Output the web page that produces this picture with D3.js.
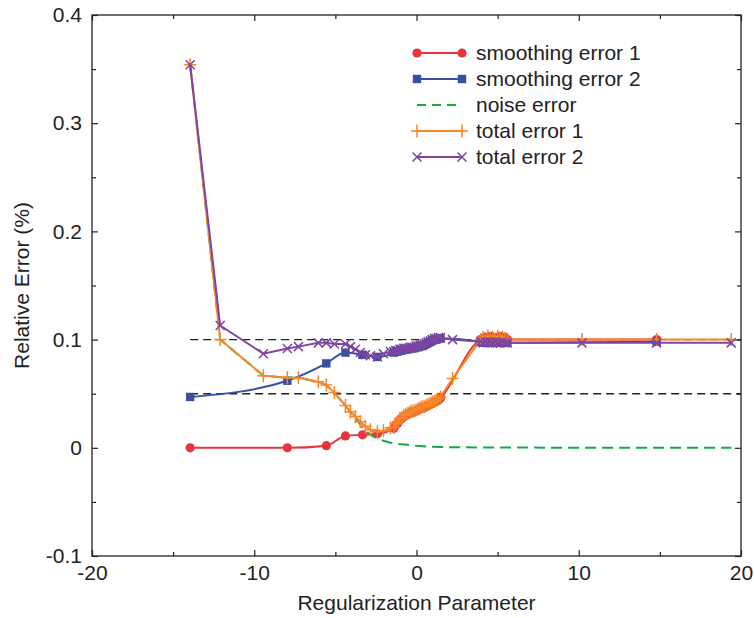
<!DOCTYPE html>
<html>
<head>
<meta charset="utf-8">
<script src="https://cdn.jsdelivr.net/npm/d3@7"></script>
<style>
  body { margin: 0; background: #fff; }
  text { font-family: "Liberation Sans", Arial, Helvetica, sans-serif; fill: #222; }
</style>
</head>
<body>
<svg id="chart" width="754" height="618"></svg>
<script>
// ---------- data ----------
const xTotal = [-13.95, -12.1, -9.44, -7.96, -7.28, -6.05, -5.56, -5.06, -4.38, -4.07, -3.77, -3.46, -3.15, -2.84, -2.41, -2.04, -1.6,
  -1.4, -1.28, -1.15, -1.02, -0.9, -0.78, -0.65, -0.52, -0.4, -0.28, -0.15, -0.03, 0.1, 0.22, 0.35, 0.47, 0.6, 0.72, 0.85, 0.97, 1.1, 1.22, 1.35, 1.48,
  2.22,
  3.95, 4.1, 4.25, 4.4, 4.55, 4.7, 4.85, 5.0, 5.15, 5.3, 5.45, 5.6,
  10.2, 14.8, 19.4];
const total1 = [0.354, 0.100, 0.0667, 0.0648, 0.0648, 0.061, 0.058, 0.051, 0.039, 0.033, 0.029, 0.024, 0.020, 0.0167, 0.0148, 0.0157, 0.0185,
  0.019, 0.022, 0.024, 0.027, 0.028, 0.030, 0.031, 0.032, 0.033, 0.034, 0.034, 0.035, 0.036, 0.037, 0.038, 0.038, 0.039, 0.040, 0.041, 0.042, 0.043, 0.044, 0.045, 0.047,
  0.064,
  0.100, 0.102, 0.101, 0.103, 0.101, 0.102, 0.100, 0.103, 0.101, 0.102, 0.101, 0.100,
  0.100, 0.100, 0.100];
const total2 = [0.354, 0.113, 0.087, 0.0917, 0.0935, 0.097, 0.097, 0.096, 0.096, 0.0935, 0.091, 0.088, 0.086, 0.085, 0.084, 0.087, 0.089,
  0.089, 0.090, 0.090, 0.091, 0.091, 0.092, 0.092, 0.092, 0.093, 0.093, 0.093, 0.094, 0.094, 0.095, 0.095, 0.096, 0.097, 0.098, 0.099, 0.100, 0.101, 0.101, 0.102, 0.102,
  0.100,
  0.098, 0.097, 0.098, 0.097, 0.098, 0.097, 0.098, 0.097, 0.097, 0.098, 0.097, 0.097,
  0.097, 0.097, 0.097];

const xSmooth = [-13.95, -7.96, -5.56, -4.38, -3.33, -2.41,
  -1.4, -1.28, -1.15, -1.02, -0.9, -0.78, -0.65, -0.52, -0.4, -0.28, -0.15, -0.03, 0.1, 0.22, 0.35, 0.47, 0.6, 0.72, 0.85, 0.97, 1.1, 1.22, 1.35, 1.48,
  3.95, 4.1, 4.25, 4.4, 4.55, 4.7, 4.85, 5.0, 5.15, 5.3, 5.45, 5.6,
  14.8];
const smooth1 = [0, 0, 0.002, 0.011, 0.012, 0.013,
  0.018, 0.021, 0.023, 0.026, 0.027, 0.029, 0.030, 0.031, 0.032, 0.033, 0.033, 0.034, 0.035, 0.036, 0.037, 0.037, 0.038, 0.039, 0.040, 0.041, 0.042, 0.043, 0.044, 0.046,
  0.100, 0.101, 0.102, 0.101, 0.103, 0.101, 0.102, 0.101, 0.103, 0.101, 0.102, 0.100,
  0.100];
const smooth2 = [0.047, 0.062, 0.078, 0.088, 0.086, 0.084,
  0.088, 0.089, 0.089, 0.090, 0.090, 0.091, 0.091, 0.091, 0.092, 0.092, 0.092, 0.093, 0.093, 0.094, 0.094, 0.095, 0.096, 0.097, 0.098, 0.099, 0.100, 0.100, 0.101, 0.101,
  0.098, 0.097, 0.098, 0.097, 0.098, 0.097, 0.098, 0.097, 0.097, 0.098, 0.097, 0.097,
  0.098];

const xNoise = [-13.95, -12.1, -9.44, -7.96, -7.28, -6.05, -5.56, -5.06, -4.38, -4.07, -3.77, -3.46, -3.15, -2.84, -2.41, -2.04, -1.6, -1.1, -0.56, 0.0, 0.86, 1.5, 2.22, 3.0, 3.95, 6.0, 10.2, 14.8, 19.4];
const noise = [0.354, 0.100, 0.0667, 0.0648, 0.0648, 0.061, 0.058, 0.051, 0.039, 0.033, 0.028, 0.0215, 0.016, 0.012, 0.0085, 0.0065, 0.0046, 0.0036, 0.0028, 0.0018, 0.001, 0.0007, 0.0005, 0.0004, 0.0003, 0.0002, 0.0001, 0, 0];

const refLevels = [0.1, 0.05];
const refStart = -13.95;
const xTicks = [-20, -10, 0, 10, 20];
const xMinor = [-15, -5, 5, 15];
const yTicks = [-0.1, 0, 0.1, 0.2, 0.3, 0.4];
const yMinor = [-0.05, 0.05, 0.15, 0.25, 0.35];
const legendLabels = ["smoothing error 1", "smoothing error 2", "noise error", "total error 1", "total error 2"];

// ---------- layout ----------
const svg = d3.select("#chart");
const L = 92, R = 741, T = 15, B = 556;
const x = d3.scaleLinear().domain([-20, 20]).range([L, R]);
const y = d3.scaleLinear().domain([-0.1, 0.4]).range([B, T]);

const C = { red: "#e8343c", blue: "#3651a3", green: "#17a84a", orange: "#f5862a", purple: "#7d45a0" };

// frame
svg.append("rect").attr("x", L).attr("y", T).attr("width", R - L).attr("height", B - T)
  .attr("fill", "none").attr("stroke", "#222").attr("stroke-width", 1.3);

function styleAxis(g) {
  g.select(".domain").remove();
  g.selectAll(".tick line").attr("stroke", "#222").attr("stroke-width", 1.2);
  g.selectAll(".tick text").style("font-size", "21px").attr("fill", "#222");
}
const yFmt = d => d === 0 ? "0" : d.toFixed(1);

svg.append("g").attr("transform", `translate(0,${B})`)
  .call(d3.axisBottom(x).tickValues(xTicks).tickSize(-6).tickPadding(9).tickFormat(d => String(d))).call(styleAxis);
svg.append("g").attr("transform", `translate(0,${B})`)
  .call(d3.axisBottom(x).tickValues(xMinor).tickSize(-4).tickFormat("")).call(styleAxis);
svg.append("g").attr("transform", `translate(0,${T})`)
  .call(d3.axisTop(x).tickValues(xTicks).tickSize(-6).tickFormat("")).call(styleAxis);
svg.append("g").attr("transform", `translate(0,${T})`)
  .call(d3.axisTop(x).tickValues(xMinor).tickSize(-4).tickFormat("")).call(styleAxis);
svg.append("g").attr("transform", `translate(${L},0)`)
  .call(d3.axisLeft(y).tickValues(yTicks).tickSize(-6).tickPadding(10).tickFormat(yFmt)).call(styleAxis);
svg.append("g").attr("transform", `translate(${L},0)`)
  .call(d3.axisLeft(y).tickValues(yMinor).tickSize(-4).tickFormat("")).call(styleAxis);
svg.append("g").attr("transform", `translate(${R},0)`)
  .call(d3.axisRight(y).tickValues(yTicks).tickSize(-6).tickFormat("")).call(styleAxis);
svg.append("g").attr("transform", `translate(${R},0)`)
  .call(d3.axisRight(y).tickValues(yMinor).tickSize(-4).tickFormat("")).call(styleAxis);

// axis titles
svg.append("text").attr("x", (L + R) / 2).attr("y", 610).attr("text-anchor", "middle")
  .style("font-size", "21px").text("Regularization Parameter");
svg.append("text").attr("transform", `translate(29,${(T + B) / 2}) rotate(-90)`).attr("text-anchor", "middle")
  .style("font-size", "21px").text("Relative Error (%)");

// reference dashed lines
svg.selectAll(".ref").data(refLevels).enter().append("line")
  .attr("x1", x(refStart)).attr("x2", R).attr("y1", d => y(d)).attr("y2", d => y(d))
  .attr("stroke", "#222").attr("stroke-width", 1.4).attr("stroke-dasharray", "8,5");

const plot = svg.append("g");
function zip(xs, ys) { return xs.map((v, i) => [v, ys[i]]); }
const lineLin = d3.line().x(d => x(d[0])).y(d => y(d[1]));
const lineMono = d3.line().x(d => x(d[0])).y(d => y(d[1])).curve(d3.curveMonotoneX);

function marker(g, type, color, px, py) {
  if (type === "circle") {
    g.append("circle").attr("cx", px).attr("cy", py).attr("r", 4.6).attr("fill", color);
  } else if (type === "square") {
    g.append("rect").attr("x", px - 4.2).attr("y", py - 4.2).attr("width", 8.4).attr("height", 8.4).attr("fill", color);
  } else if (type === "plus") {
    g.append("path").attr("d", `M${px - 6},${py}H${px + 6}M${px},${py - 6.5}V${py + 6.5}`)
      .attr("stroke", color).attr("stroke-width", 1.5).attr("fill", "none");
  } else if (type === "cross") {
    g.append("path").attr("d", `M${px - 4.5},${py - 4.5}L${px + 4.5},${py + 4.5}M${px - 4.5},${py + 4.5}L${px + 4.5},${py - 4.5}`)
      .attr("stroke", color).attr("stroke-width", 1.5).attr("fill", "none");
  }
}

const series = [
  { data: zip(xSmooth, smooth1), color: C.red, gen: lineMono, mark: "circle" },
  { data: zip(xSmooth, smooth2), color: C.blue, gen: lineMono, mark: "square" },
  { data: zip(xNoise, noise), color: C.green, gen: lineLin, mark: null, dash: "11,6" },
  { data: zip(xTotal, total1), color: C.orange, gen: lineLin, mark: "plus" },
  { data: zip(xTotal, total2), color: C.purple, gen: lineLin, mark: "cross" }
];

series.forEach(s => {
  const g = plot.append("g");
  g.append("path").datum(s.data).attr("d", s.gen).attr("fill", "none")
    .attr("stroke", s.color).attr("stroke-width", 2)
    .attr("stroke-dasharray", s.dash || null);
  if (s.mark) s.data.forEach(d => marker(g, s.mark, s.color, x(d[0]), y(d[1])));
});

// legend
const lg = svg.append("g");
const legRowY = [53, 79, 105, 131, 157];
series.forEach((s, i) => {
  const yy = legRowY[i];
  lg.append("line").attr("x1", 417).attr("x2", 462).attr("y1", yy).attr("y2", yy)
    .attr("stroke", s.color).attr("stroke-width", 2).attr("stroke-dasharray", s.dash ? "9,6" : null);
  if (s.mark) { marker(lg, s.mark, s.color, 417, yy); marker(lg, s.mark, s.color, 462, yy); }
  lg.append("text").attr("x", 476).attr("y", yy).attr("dy", "0.35em")
    .style("font-size", "21px").text(legendLabels[i]);
});
</script>
</body>
</html>
